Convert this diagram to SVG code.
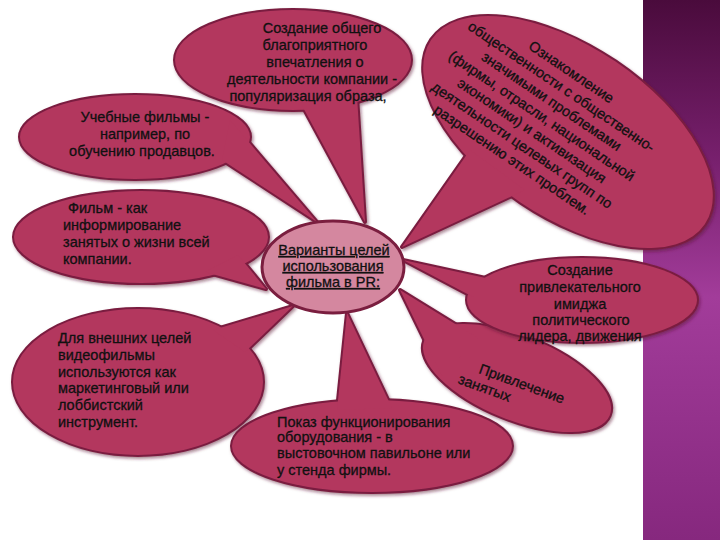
<svg xmlns="http://www.w3.org/2000/svg" xmlns:xlink="http://www.w3.org/1999/xlink" width="720" height="540" viewBox="0 0 720 540">
<defs>
  <linearGradient id="strip" x1="0" y1="0" x2="0" y2="1">
    <stop offset="0" stop-color="#4a0b3c"/>
    <stop offset="0.3" stop-color="#78206e"/>
    <stop offset="0.55" stop-color="#a23c9a"/>
    <stop offset="1" stop-color="#86287e"/>
  </linearGradient>
  <filter id="sh" x="-10%" y="-10%" width="120%" height="130%">
    <feDropShadow dx="1.5" dy="2" stdDeviation="1.5" flood-color="#5a1030" flood-opacity="0.5"/>
  </filter>
  <g id="s-top"><ellipse cx="293" cy="60" rx="118" ry="50"/><polygon points="299,100 357,96 365,222"/></g>
  <g id="s-big"><ellipse cx="568" cy="132" rx="165" ry="85" transform="rotate(34 568 132)"/><polygon points="470,150 525,190 402,247"/></g>
  <g id="s-ucheb"><ellipse cx="135" cy="137" rx="115" ry="42"/><polygon points="230,120 222,160 317,222"/></g>
  <g id="s-film"><ellipse cx="141" cy="237" rx="127" ry="46"/><polygon points="238,255 205,272 266,289"/></g>
  <g id="s-ext"><ellipse cx="138" cy="382" rx="125" ry="73"/><polygon points="213,330 245,352 293,306"/></g>
  <g id="s-show"><ellipse cx="372" cy="446" rx="140" ry="46"/><polygon points="337,410 392,408 347,313"/></g>
  <g id="s-attr"><ellipse cx="517" cy="378" rx="100" ry="42" transform="rotate(22 517 378)"/><polygon points="400,290 478,338 442,376"/></g>
  <g id="s-image"><ellipse cx="582" cy="300" rx="115" ry="42"/><polygon points="495,280 475,298 403,260"/></g>
</defs>
<style>
  .bs { fill: #7a1e3f; stroke: #7a1e3f; stroke-width: 4; stroke-linejoin: round; filter: url(#sh); }
  .bf { fill: #b3375e; stroke: none; }
  .t { font-family: "Liberation Sans", Arial, sans-serif; font-size: 14.5px; fill: #111; stroke: #111; stroke-width: 0.3; }
  .c { text-anchor: middle; }
</style>
<rect x="0" y="0" width="720" height="540" fill="#ffffff"/>
<rect x="643" y="0" width="77" height="540" fill="url(#strip)"/>

<g id="connectors"></g>

<g id="n-top">
  <use xlink:href="#s-top" class="bs"/>
  <use xlink:href="#s-top" class="bf"/>
  <text class="t c" x="322" y="33">Создание общего</text>
  <text class="t c" x="315" y="50">благоприятного</text>
  <text class="t c" x="315" y="67">впечатления о</text>
  <text class="t c" x="312" y="84">деятельности компании -</text>
  <text class="t c" x="308" y="101">популяризация образа,</text>
</g>

<g id="n-big">
  <use xlink:href="#s-big" class="bs"/>
  <use xlink:href="#s-big" class="bf"/>
  <g transform="translate(539 120) rotate(34)">
    <text class="t c" x="0" y="-53">Ознакомление</text>
    <text class="t c" x="0" y="-35.3">общественности с общественно-</text>
    <text class="t c" x="0" y="-17.7">значимыми проблемами</text>
    <text class="t c" x="0" y="0">(фирмы, отрасли, национальной</text>
    <text class="t c" x="0" y="17.7">экономики) и активизация</text>
    <text class="t c" x="0" y="35.3">деятельности целевых групп по</text>
    <text class="t c" x="0" y="53">разрешению этих проблем.</text>
  </g>
</g>

<g id="n-ucheb">
  <use xlink:href="#s-ucheb" class="bs"/>
  <use xlink:href="#s-ucheb" class="bf"/>
  <text class="t c" x="145" y="122">Учебные фильмы -</text>
  <text class="t c" x="145" y="139">например, по</text>
  <text class="t c" x="142" y="156">обучению продавцов.</text>
</g>

<g id="n-film">
  <use xlink:href="#s-film" class="bs"/>
  <use xlink:href="#s-film" class="bf"/>
  <text class="t" x="68" y="213">Фильм - как</text>
  <text class="t" x="63" y="230">информирование</text>
  <text class="t" x="63" y="247">занятых о жизни всей</text>
  <text class="t" x="63" y="264">компании.</text>
</g>

<g id="n-ext">
  <use xlink:href="#s-ext" class="bs"/>
  <use xlink:href="#s-ext" class="bf"/>
  <text class="t" x="58" y="343">Для внешних целей</text>
  <text class="t" x="58" y="360">видеофильмы</text>
  <text class="t" x="58" y="377">используются как</text>
  <text class="t" x="58" y="393">маркетинговый или</text>
  <text class="t" x="58" y="410">лоббистский</text>
  <text class="t" x="58" y="427">инструмент.</text>
</g>

<g id="n-show">
  <use xlink:href="#s-show" class="bs"/>
  <use xlink:href="#s-show" class="bf"/>
  <text class="t" x="277" y="427">Показ функционирования</text>
  <text class="t" x="277" y="442">оборудования - в</text>
  <text class="t" x="277" y="458">выстовочном павильоне или</text>
  <text class="t" x="277" y="475">у стенда фирмы.</text>
</g>

<g id="n-attr">
  <use xlink:href="#s-attr" class="bs"/>
  <use xlink:href="#s-attr" class="bf"/>
  <g transform="translate(478 373) rotate(20)">
    <text class="t" x="0" y="0">Привлечение</text>
    <text class="t" x="-16" y="16.6">занятых</text>
  </g>
</g>

<g id="n-image">
  <use xlink:href="#s-image" class="bs"/>
  <use xlink:href="#s-image" class="bf"/>
  <text class="t c" x="580" y="275">Создание</text>
  <text class="t c" x="580" y="292">привлекательного</text>
  <text class="t c" x="580" y="309">имиджа</text>
  <text class="t c" x="581" y="325">политического</text>
  <text class="t c" x="580" y="341">лидера, движения</text>
</g>

<g id="n-center">
  <ellipse cx="333" cy="267" rx="71" ry="46" fill="#d4879f" stroke="#7a1e3f" stroke-width="3"/>
  <text class="t c" x="334" y="255" text-decoration="underline">Варианты целей</text>
  <text class="t c" x="333" y="271" text-decoration="underline">использования</text>
  <text class="t c" x="333" y="287" text-decoration="underline">фильма в PR:</text>
</g>
</svg>
